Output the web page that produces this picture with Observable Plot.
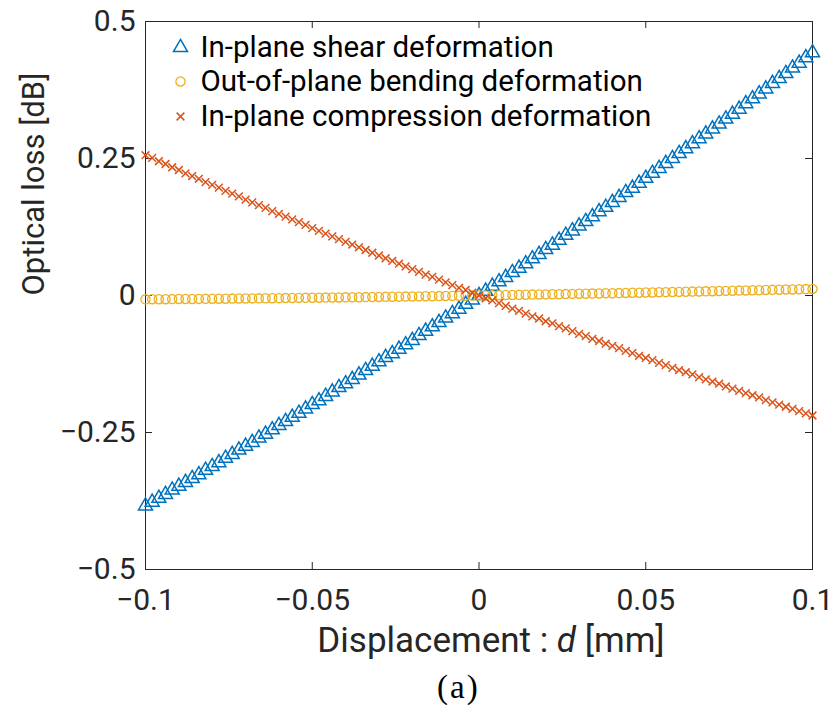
<!DOCTYPE html>
<html>
<head>
<meta charset="utf-8">
<script src="https://cdn.jsdelivr.net/npm/d3@7"></script>
<script src="https://cdn.jsdelivr.net/npm/@observablehq/plot@0.6"></script>
<style>
  html, body { margin: 0; padding: 0; background: #fff; }
  #chart { width: 834px; }
  .caption {
    font-family: "Liberation Serif", "DejaVu Serif", serif;
    font-size: 33px;
    letter-spacing: 2px;
    height: 46px;
    line-height: 54px;
    padding-left: 437px;
    color: #000;
  }
</style>
</head>
<body>
<div id="chart"></div>
<div class="caption">(a)</div>
<script>
// Displacement d [mm], sampled every 0.002 mm
const displacement = [
  -0.1, -0.098, -0.096, -0.094, -0.092, -0.09, -0.088, -0.086, -0.084, -0.082,
  -0.08, -0.078, -0.076, -0.074, -0.072, -0.07, -0.068, -0.066, -0.064, -0.062,
  -0.06, -0.058, -0.056, -0.054, -0.052, -0.05, -0.048, -0.046, -0.044, -0.042,
  -0.04, -0.038, -0.036, -0.034, -0.032, -0.03, -0.028, -0.026, -0.024, -0.022,
  -0.02, -0.018, -0.016, -0.014, -0.012, -0.01, -0.008, -0.006, -0.004, -0.002,
  0,
  0.002, 0.004, 0.006, 0.008, 0.01, 0.012, 0.014, 0.016, 0.018, 0.02,
  0.022, 0.024, 0.026, 0.028, 0.03, 0.032, 0.034, 0.036, 0.038, 0.04,
  0.042, 0.044, 0.046, 0.048, 0.05, 0.052, 0.054, 0.056, 0.058, 0.06,
  0.062, 0.064, 0.066, 0.068, 0.07, 0.072, 0.074, 0.076, 0.078, 0.08,
  0.082, 0.084, 0.086, 0.088, 0.09, 0.092, 0.094, 0.096, 0.098, 0.1
];

// Optical loss [dB] for in-plane shear deformation
const shearLoss = [
  -0.384, -0.377, -0.370, -0.363, -0.355, -0.348, -0.341, -0.334, -0.327, -0.319,
  -0.312, -0.305, -0.297, -0.290, -0.282, -0.275, -0.268, -0.260, -0.253, -0.245,
  -0.237, -0.230, -0.222, -0.215, -0.207, -0.199, -0.192, -0.184, -0.176, -0.168,
  -0.161, -0.153, -0.145, -0.137, -0.129, -0.121, -0.113, -0.106, -0.098, -0.090,
  -0.082, -0.073, -0.065, -0.057, -0.049, -0.041, -0.033, -0.025, -0.016, -0.008,
  0,
  0.008, 0.017, 0.025, 0.033, 0.042, 0.050, 0.058, 0.067, 0.075, 0.084,
  0.092, 0.101, 0.110, 0.118, 0.127, 0.135, 0.144, 0.153, 0.161, 0.170,
  0.179, 0.188, 0.196, 0.205, 0.214, 0.223, 0.232, 0.241, 0.250, 0.259,
  0.268, 0.277, 0.286, 0.295, 0.304, 0.313, 0.322, 0.331, 0.340, 0.350,
  0.359, 0.368, 0.377, 0.387, 0.396, 0.405, 0.415, 0.424, 0.434, 0.443
];

// Optical loss [dB] for out-of-plane bending deformation
const bendingLoss = [
  -0.0070, -0.0069, -0.0068, -0.0067, -0.0066, -0.0065, -0.0064, -0.0063, -0.0062, -0.0061,
  -0.0060, -0.0059, -0.0058, -0.0057, -0.0055, -0.0054, -0.0053, -0.0052, -0.0051, -0.0049,
  -0.0048, -0.0047, -0.0045, -0.0044, -0.0043, -0.0041, -0.0040, -0.0038, -0.0037, -0.0035,
  -0.0034, -0.0032, -0.0031, -0.0029, -0.0028, -0.0026, -0.0025, -0.0023, -0.0021, -0.0020,
  -0.0018, -0.0016, -0.0015, -0.0013, -0.0011, -0.0009, -0.0007, -0.0006, -0.0004, -0.0002,
  0,
  0.0002, 0.0004, 0.0006, 0.0008, 0.0010, 0.0012, 0.0014, 0.0016, 0.0018, 0.0020,
  0.0022, 0.0024, 0.0026, 0.0029, 0.0031, 0.0033, 0.0035, 0.0037, 0.0040, 0.0042,
  0.0044, 0.0047, 0.0049, 0.0051, 0.0054, 0.0056, 0.0059, 0.0061, 0.0064, 0.0066,
  0.0069, 0.0071, 0.0074, 0.0076, 0.0079, 0.0081, 0.0084, 0.0087, 0.0089, 0.0092,
  0.0095, 0.0097, 0.0100, 0.0103, 0.0106, 0.0109, 0.0111, 0.0114, 0.0117, 0.0120
];

// Optical loss [dB] for in-plane compression deformation
const compressionLoss = [
  0.256, 0.251, 0.245, 0.240, 0.234, 0.229, 0.223, 0.218, 0.213, 0.207,
  0.202, 0.197, 0.191, 0.186, 0.181, 0.175, 0.170, 0.165, 0.160, 0.154,
  0.149, 0.144, 0.139, 0.134, 0.129, 0.123, 0.118, 0.113, 0.108, 0.103,
  0.098, 0.093, 0.088, 0.083, 0.078, 0.073, 0.068, 0.063, 0.058, 0.053,
  0.048, 0.043, 0.038, 0.034, 0.029, 0.024, 0.019, 0.014, 0.010, 0.005,
  0,
  -0.005, -0.009, -0.014, -0.019, -0.024, -0.028, -0.033, -0.038, -0.042, -0.047,
  -0.051, -0.056, -0.060, -0.065, -0.070, -0.074, -0.079, -0.083, -0.088, -0.092,
  -0.096, -0.101, -0.105, -0.110, -0.114, -0.118, -0.123, -0.127, -0.132, -0.136,
  -0.140, -0.144, -0.149, -0.153, -0.157, -0.161, -0.166, -0.170, -0.174, -0.178,
  -0.182, -0.186, -0.191, -0.195, -0.199, -0.203, -0.207, -0.211, -0.215, -0.219
];

const seriesNames = [
  "In-plane shear deformation",
  "Out-of-plane bending deformation",
  "In-plane compression deformation"
];
const seriesColors = ["#0072BD", "#EDB120", "#D95319"];
const seriesSymbols = ["triangle", "circle", "times"];

const xTicks = [-0.1, -0.05, 0, 0.05, 0.1];
const yTicks = [-0.5, -0.25, 0, 0.25, 0.5];

const FONT = 'Roboto, "Noto Sans", sans-serif';
const AXIS = "#262626";

const W = 834, H = 660;
const mL = 145, mR = 22, mT = 21, mB = H - 569;
const plotW = W - mL - mR, plotH = H - mT - mB;
const TICK = 7;

const rows = (ys) => displacement.map((d, i) => ({d, loss: ys[i]}));
const fmt = (v) => (v < 0 ? "\u2212" : "") + Math.abs(v);

// marker size and outline per series
const markerStyle = [
  {r: 5.2, strokeWidth: 1.5},
  {r: 4.6, strokeWidth: 1.3},
  {r: 3.6, strokeWidth: 1.5}
];

const legendRowsDy = [26, 60, 95];

const chart = Plot.plot({
  width: W,
  height: H,
  marginLeft: mL,
  marginRight: mR,
  marginTop: mT,
  marginBottom: mB,
  style: {fontFamily: FONT, fontSize: "30px", color: AXIS, background: "#fff", overflow: "visible"},
  x: {domain: [-0.1, 0.1]},
  y: {domain: [-0.5, 0.5]},
  marks: [
    // inward ticks on all four sides
    Plot.tickX(xTicks, {x: (d) => d, insetTop: plotH - TICK, stroke: AXIS, strokeWidth: 1}),
    Plot.tickX(xTicks, {x: (d) => d, insetBottom: plotH - TICK, stroke: AXIS, strokeWidth: 1}),
    Plot.tickY(yTicks, {y: (d) => d, insetRight: plotW - TICK, stroke: AXIS, strokeWidth: 1}),
    Plot.tickY(yTicks, {y: (d) => d, insetLeft: plotW - TICK, stroke: AXIS, strokeWidth: 1}),
    Plot.axisX({ticks: xTicks, tickSize: 0, tickPadding: 19, tickFormat: fmt, label: null, fontSize: 30}),
    Plot.axisY({ticks: yTicks, tickSize: 0, tickPadding: 10, tickFormat: fmt, label: null, fontSize: 30}),
    Plot.frame({stroke: AXIS, strokeWidth: 1}),

    // data series
    Plot.dot(rows(shearLoss), {x: "d", y: "loss", symbol: () => seriesSymbols[0], stroke: seriesColors[0], fill: "none", ...markerStyle[0]}),
    Plot.dot(rows(bendingLoss), {x: "d", y: "loss", symbol: () => seriesSymbols[1], stroke: seriesColors[1], fill: "none", ...markerStyle[1]}),
    Plot.dot(rows(compressionLoss), {x: "d", y: "loss", symbol: () => seriesSymbols[2], stroke: seriesColors[2], fill: "none", ...markerStyle[2]}),

    // legend inside the top-left corner
    ...seriesNames.flatMap((name, i) => [
      Plot.dot([name], {frameAnchor: "top-left", dx: 35, dy: legendRowsDy[i], symbol: () => seriesSymbols[i], stroke: seriesColors[i], fill: "none", ...markerStyle[i]}),
      Plot.text([name], {frameAnchor: "top-left", dx: 55, dy: legendRowsDy[i], text: (d) => d, textAnchor: "start", lineAnchor: "middle", fontSize: 29.5, fill: "#000"})
    ]),

    // axis titles
    Plot.text(["Displacement : d [mm]"], {frameAnchor: "bottom", dx: 12, dy: 71, text: (d) => d, lineAnchor: "middle", fontSize: 35, fill: AXIS, className: "x-title"}),
    Plot.text(["Optical loss [dB]"], {frameAnchor: "left", dx: -111, text: (d) => d, rotate: -90, lineAnchor: "middle", fontSize: 31, fill: AXIS})
  ]
});

// italic variable name in the x-axis title
d3.select(chart).select(".x-title text")
  .html('Displacement : <tspan font-style="italic">d</tspan> [mm]');

document.getElementById("chart").appendChild(chart);
</script>
</body>
</html>
